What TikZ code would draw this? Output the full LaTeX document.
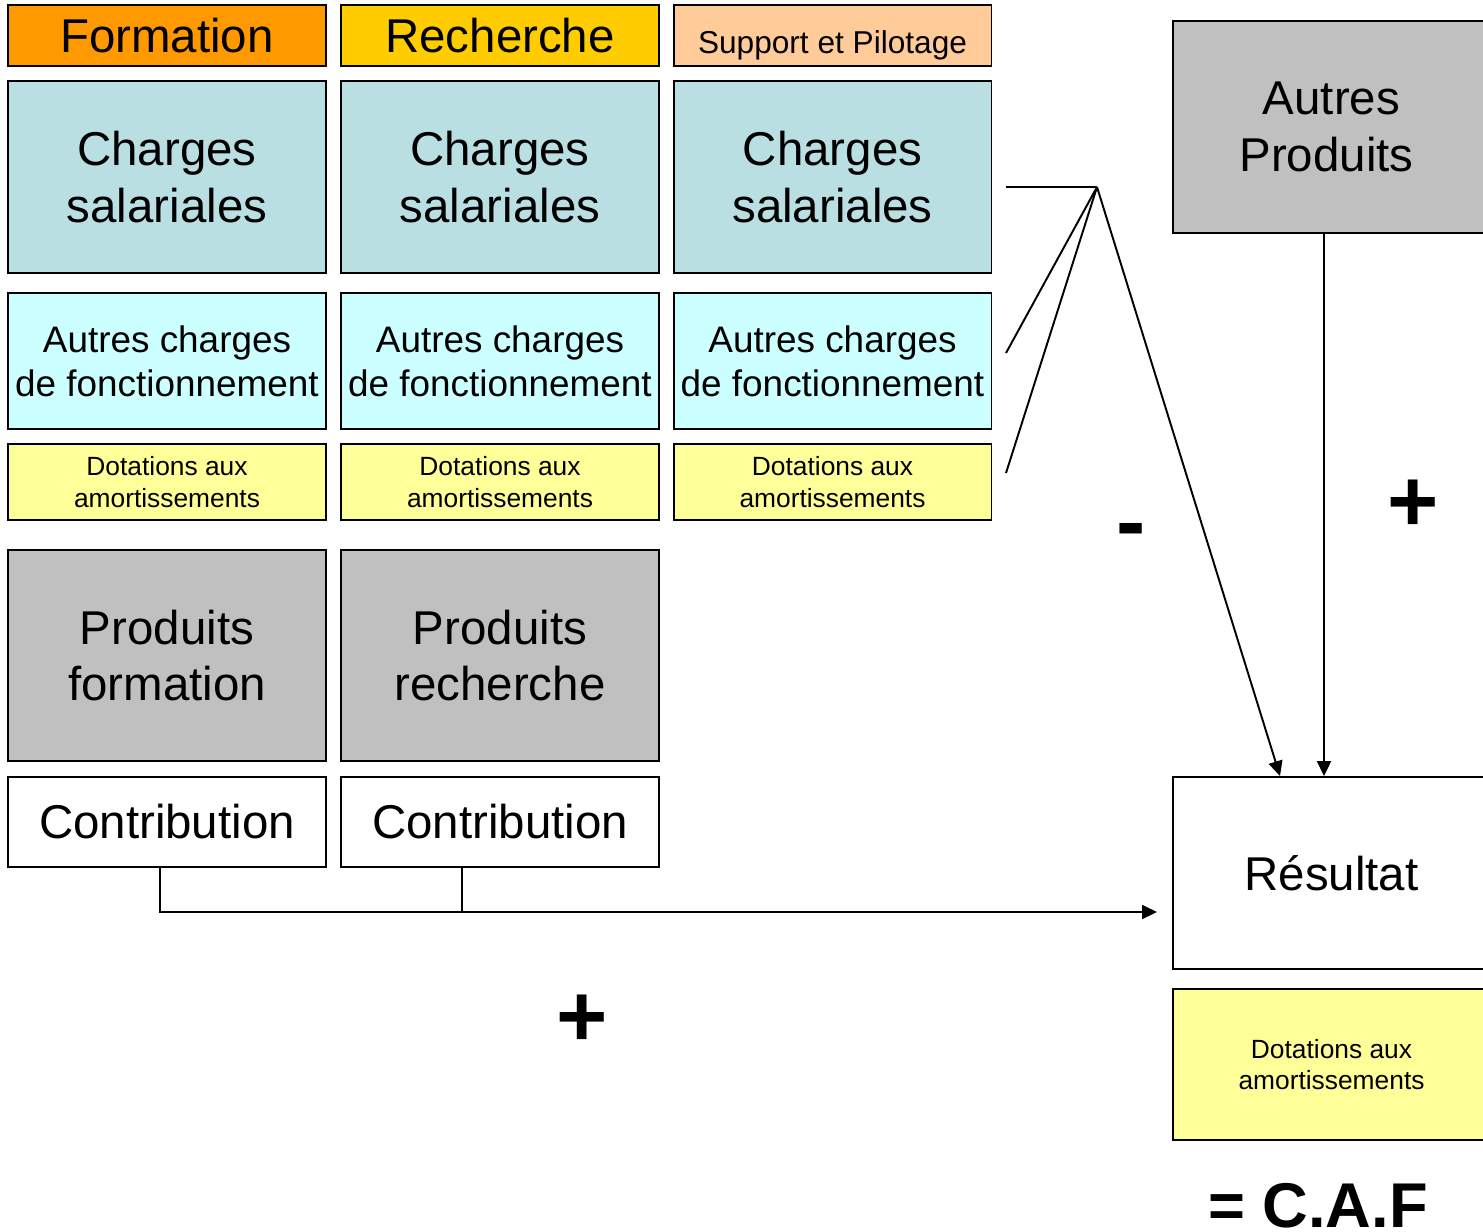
\documentclass[tikz,border=0pt]{standalone}
\usepackage{fontspec}
\setmainfont{Liberation Sans}
\usetikzlibrary{arrows.meta}
\definecolor{cForm}{HTML}{FF9900}
\definecolor{cRech}{HTML}{FFCC00}
\definecolor{cSupp}{HTML}{FFCC99}
\definecolor{cChar}{HTML}{B9DFE2}
\definecolor{cAutr}{HTML}{CCFFFF}
\definecolor{cDota}{HTML}{FFFF99}
\definecolor{cProd}{HTML}{C0C0C0}
\tikzset{
  box/.style={draw=black, line width=1.1pt, inner sep=0pt, align=center, minimum width=6.36cm},
  hdr/.style={box, minimum height=1.22cm, font=\fontsize{27}{32}\selectfont},
  chg/.style={box, fill=cChar, minimum height=3.84cm, font=\fontsize{27}{32}\selectfont},
  aut/.style={box, fill=cAutr, minimum height=2.72cm, font=\fontsize{21}{25}\selectfont},
  dot/.style={box, fill=cDota, minimum height=1.52cm, font=\fontsize{15}{18}\selectfont},
  prd/.style={box, fill=cProd, minimum height=4.22cm, font=\fontsize{27}{32}\selectfont},
  ctb/.style={box, fill=white, minimum height=1.8cm, font=\fontsize{27}{32}\selectfont},
  conn/.style={line width=1.1pt},
  arr/.style={conn, -{Triangle[length=0.3cm, width=0.28cm]}},
  sign/.style={inner sep=0pt, anchor=base, font=\fontsize{50}{50}\selectfont\bfseries},
}
\begin{document}
\begin{tikzpicture}[x=0.02cm, y=-0.02cm]
\useasboundingbox (0,0) rectangle (1483,1231);
\begin{scope}
\clip (0,0) rectangle (1483,1231);
% headers
\node[hdr, fill=cForm] (hF) at (167,35.5) {Formation};
\node[hdr, fill=cRech] (hR) at (500,35.5) {Recherche};
\node[hdr, fill=cSupp, font=\fontsize{18}{21}\selectfont] (hS) at (832.5,35.5) {\raisebox{-0.58em}[0pt][0pt]{Support et Pilotage}};
% charges salariales
\node[chg] (cs1) at (167,177) {Charges\\salariales};
\node[chg] (cs2) at (500,177) {Charges\\salariales};
\node[chg] (cs3) at (832.5,177) {Charges\\salariales};
% autres charges
\node[aut] (ac1) at (167,361) {Autres charges\\de fonctionnement};
\node[aut] (ac2) at (500,361) {Autres charges\\de fonctionnement};
\node[aut] (ac3) at (832.5,361) {Autres charges\\de fonctionnement};
% dotations
\node[dot] (d1) at (167,482) {Dotations aux\\amortissements};
\node[dot] (d2) at (500,482) {Dotations aux\\amortissements};
\node[dot] (d3) at (832.5,482) {Dotations aux\\amortissements};
% produits
\node[prd] (p1) at (167,655.5) {Produits\\formation};
\node[prd] (p2) at (500,655.5) {Produits\\recherche};
% contribution
\node[ctb] (k1) at (167,822) {Contribution};
\node[ctb] (k2) at (500,822) {Contribution};
% right column
\node[prd, minimum width=6.34cm, minimum height=4.24cm] (ap) at (1331.5,127) {Autres\\\hspace*{-0.2cm}Produits};
\node[ctb, minimum width=6.34cm, minimum height=3.84cm] (res) at (1331.5,873) {Résultat};
\node[dot, minimum width=6.34cm, minimum height=3.02cm] (db) at (1331.5,1064.5) {Dotations aux\\amortissements};
\end{scope}
% convergence lines
\coordinate (cv) at (1097,187);
\coordinate (e1) at (1006,187);
\coordinate (e2) at (1006,353);
\coordinate (e3) at (1006,473);
\coordinate (xa) at (1280,0);
\coordinate (xb) at (1324,0);
\draw[conn] (e1) -- (cv);
\draw[conn] (e2) -- (cv);
\draw[conn] (e3) -- (cv);
\draw[arr] (cv) -- (res.north -| xa);
\draw[arr] (ap.south -| xb) -- (res.north -| xb);
% contribution connectors
\coordinate (x1) at (160,0);
\coordinate (x2) at (462,0);
\coordinate (ae) at (1157,912);
\draw[arr] (k1.south -| x1) |- (ae);
\draw[conn] (k2.south -| x2) -- (x2 |- ae);
% signs
\node[sign] (plusR) at (1413,531) {+};
\node[sign] (plusB) at (582,1046) {+};
\node[sign] (minus) at (1131,551) {-};
\node[inner sep=0pt, anchor=base, font=\fontsize{36}{36}\selectfont\bfseries] (caf) at (1318,1227) {= C.A.F};
\end{tikzpicture}
\end{document}
